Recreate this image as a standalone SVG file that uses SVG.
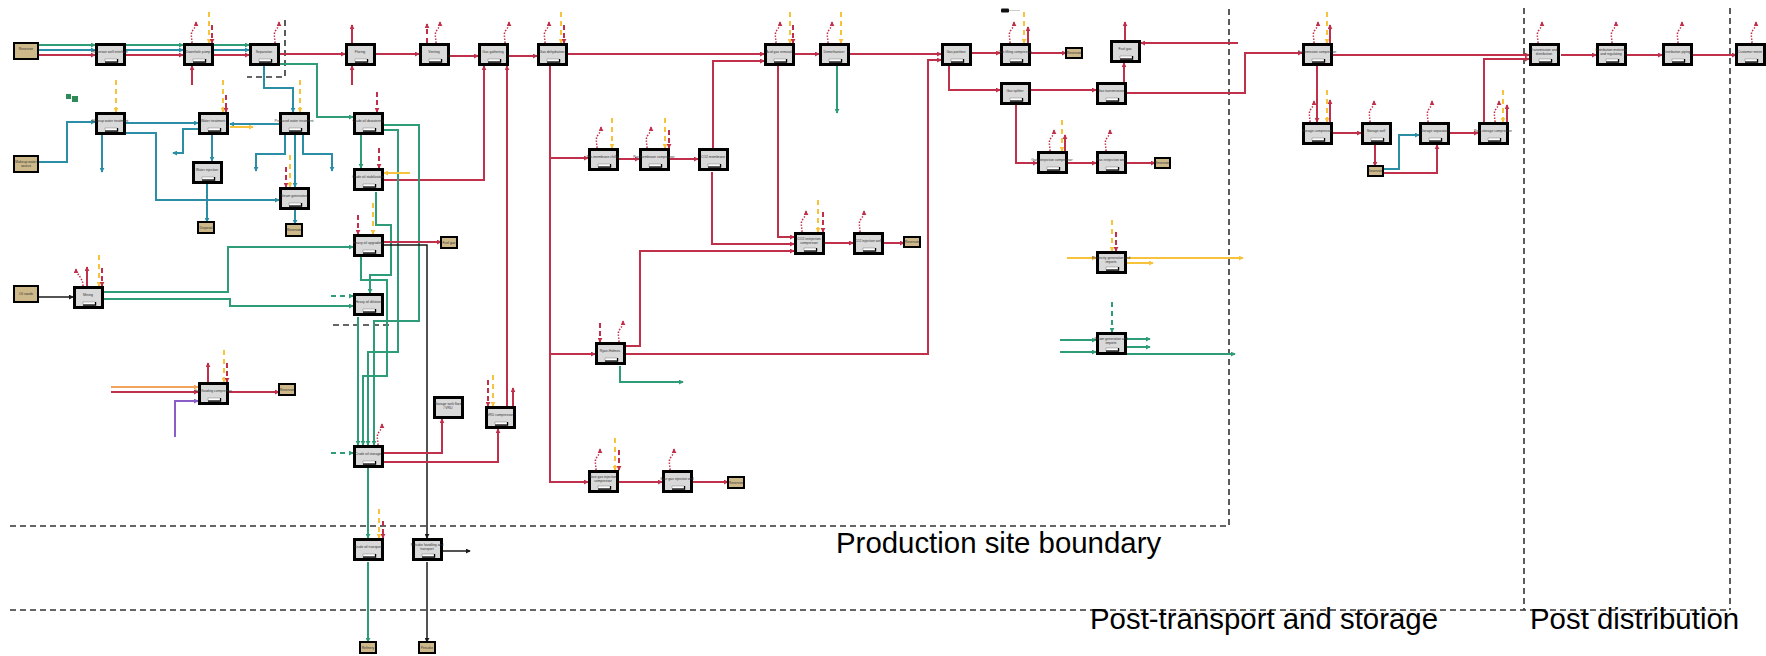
<svg xmlns="http://www.w3.org/2000/svg" xmlns:xlink="http://www.w3.org/1999/xlink" width="1766" height="656" viewBox="0 0 1766 656">
<style>
text{font-family:"Liberation Sans",Arial,sans-serif}
.lb{font-size:3.4px;fill:#333;text-anchor:middle}
.big{font-size:29.4px;fill:#000}
.src{fill:#cdb88a;stroke:#000;stroke-width:2}
.c{fill:none;stroke-width:2;stroke-linejoin:miter}
.r{stroke:#c0304a;marker-end:url(#mr)}
.b{stroke:#2b8ea6;marker-end:url(#mb)}
.g{stroke:#2e9c78;marker-end:url(#mg)}
.y{stroke:#f8c33c;marker-end:url(#my)}
.k{stroke:#1a1a1a;stroke-width:1.5;marker-end:url(#mk)}
.o{stroke:#f2a55a;marker-end:url(#mo)}
.p{stroke:#8a5ec6;marker-end:url(#mp)}
.na{marker-end:none}
.d{stroke-dasharray:5 4}
.el{fill:none;stroke:#f8c33c;stroke-width:2;stroke-dasharray:5 4;marker-end:url(#my)}
.fu{fill:none;stroke:#c0304a;stroke-width:2;stroke-dasharray:5 3;marker-end:url(#mr)}
.fg{fill:none;stroke:#c0304a;stroke-width:1.5;stroke-dasharray:1.5 1.5;marker-end:url(#mr)}
.bd{fill:none;stroke:#333;stroke-width:1.6;stroke-dasharray:6 4}
</style>
<defs>
<marker id="mr" viewBox="0 0 6 6" refX="5" refY="3" markerWidth="5" markerHeight="5" markerUnits="userSpaceOnUse" orient="auto"><path d="M0 0L6 3L0 6z" fill="#c0304a"/></marker>
<marker id="mb" viewBox="0 0 6 6" refX="5" refY="3" markerWidth="5" markerHeight="5" markerUnits="userSpaceOnUse" orient="auto"><path d="M0 0L6 3L0 6z" fill="#2b8ea6"/></marker>
<marker id="mg" viewBox="0 0 6 6" refX="5" refY="3" markerWidth="5" markerHeight="5" markerUnits="userSpaceOnUse" orient="auto"><path d="M0 0L6 3L0 6z" fill="#2e9c78"/></marker>
<marker id="my" viewBox="0 0 6 6" refX="5" refY="3" markerWidth="5" markerHeight="5" markerUnits="userSpaceOnUse" orient="auto"><path d="M0 0L6 3L0 6z" fill="#f8c33c"/></marker>
<marker id="mk" viewBox="0 0 6 6" refX="5" refY="3" markerWidth="5" markerHeight="5" markerUnits="userSpaceOnUse" orient="auto"><path d="M0 0L6 3L0 6z" fill="#1a1a1a"/></marker>
<marker id="mo" viewBox="0 0 6 6" refX="5" refY="3" markerWidth="5" markerHeight="5" markerUnits="userSpaceOnUse" orient="auto"><path d="M0 0L6 3L0 6z" fill="#f2a55a"/></marker>
<marker id="mp" viewBox="0 0 6 6" refX="5" refY="3" markerWidth="5" markerHeight="5" markerUnits="userSpaceOnUse" orient="auto"><path d="M0 0L6 3L0 6z" fill="#8a5ec6"/></marker>
<g id="box"><rect x="1.5" y="1.5" width="28" height="20" fill="#d9d9d9" stroke="#000" stroke-width="3"/><rect x="10" y="16" width="12" height="2.6" fill="#fff" stroke="#666" stroke-width=".4"/><path d="M10 19.2H22.6V16" fill="none" stroke="#000" stroke-width="1.2"/></g>
<g id="box0"><rect x="1.5" y="1.5" width="28" height="20" fill="#d9d9d9" stroke="#000" stroke-width="3"/></g>
<path id="fug" class="fg" d="M0 0C0 -6 -2 -9 1 -13S4 -18 4 -21"/>
</defs>

<g id="boundaries">
<path class="bd" d="M10 526H1229V8"/>
<path class="bd" d="M10 610H1730"/>
<path class="bd" d="M1524 8V610"/>
<path class="bd" d="M1730 8V610"/>
<path class="bd" d="M285 20V77H247"/>
<path class="bd" d="M333 325H391"/>
<text class="big" x="836" y="553">Production site boundary</text>
<text class="big" x="1090" y="629">Post-transport and storage</text>
<text class="big" x="1530" y="629">Post distribution</text>
</g>

<g id="connectors">
<!-- top row -->
<path class="c g" d="M38 45H95"/><path class="c b" d="M38 50H95"/><path class="c r" d="M38 55H95"/>
<path class="c g" d="M126 45H183"/><path class="c b" d="M126 50H183"/><path class="c r" d="M126 55H183"/>
<path class="c g" d="M213 45H249"/><path class="c b" d="M213 50H249"/><path class="c r" d="M213 55H249"/>
<path class="c r" d="M192 85V66"/>
<path class="c r" d="M280 54H345"/>
<path class="c g" d="M280 64H317V117H353"/>
<path class="c b" d="M264 66V88H293V112"/>
<path class="c r" d="M352 85V66"/>
<path class="c r" d="M376 54H419"/>
<path class="c r" d="M449 56H478"/>
<path class="c r" d="M508 56H537"/>
<path class="c r" d="M567 54H764"/>
<path class="c r" d="M383 180H484V66"/>
<path class="c r" d="M507 406V66"/>
<path class="c r" d="M550 66V482H588"/>
<path class="c r" d="M550 158H588"/>
<path class="c r" d="M550 354H595"/>
<path class="c r" d="M619 159H639"/>
<path class="c r" d="M670 159H698"/>
<path class="c r" d="M713 148V61H764"/>
<path class="c r" d="M712 172V244H794"/>
<path class="c r" d="M778 66V237H794"/>
<path class="c r" d="M626 346H640V251H794"/>
<path class="c r" d="M626 354H928V60H941"/>
<path class="c g" d="M620 366V382H683"/>
<path class="c r" d="M825 243H853"/>
<path class="c r" d="M883 243H904"/>
<path class="c r" d="M619 482H662"/>
<path class="c r" d="M692 482H728"/>
<path class="c r" d="M795 54H819"/>
<path class="c r" d="M850 54H941"/>
<path class="c g" d="M837 66V113"/>
<path class="c r" d="M972 53H1000"/>
<path class="c r" d="M1031 53H1066"/>
<path class="c r" d="M949 66V90H1000"/>
<path class="c r" d="M1031 90H1096"/>
<path class="c r" d="M1124 82V63"/>
<path class="c r" d="M1127 93H1245V53H1302"/>
<path class="c r" d="M1238 43H1141"/>
<path class="c r" d="M1016 105V163H1037"/>
<path class="c r" d="M1067 163H1096"/>
<path class="c r" d="M1127 163H1155"/>
<path class="c r" d="M1332 55H1529"/>
<path class="c r" d="M1317 66V122"/>
<path class="c r" d="M1332 133H1361"/>
<path class="c r" d="M1375 145V166"/>
<path class="c b" d="M1383 169H1399V135H1419"/>
<path class="c r" d="M1383 173H1437V145"/>
<path class="c r" d="M1450 133H1478"/>
<path class="c r" d="M1484 122V59H1529"/>
<path class="c r" d="M1561 55H1596"/>
<path class="c r" d="M1627 55H1662"/>
<path class="c r" d="M1693 55H1736"/>
<!-- water -->
<path class="c b" d="M38 162H67V122H95"/>
<path class="c b" d="M126 123H198"/>
<path class="c b" d="M102 135V172"/>
<path class="c b" d="M126 133H156V200H279"/>
<path class="c b" d="M279 124H230"/>
<path class="c y" d="M230 127H253"/>
<path class="c b" d="M212 135V161"/>
<path class="c b" d="M198 129H183V153H173"/>
<path class="c b" d="M207 184V222"/>
<path class="c b" d="M285 135V154H256V171"/>
<path class="c b" d="M303 135V154H332V171"/>
<path class="c b" d="M295 135V187"/>
<path class="c b" d="M295 210V224"/>
<!-- oil -->
<path class="c g" d="M361 135V168"/>
<path class="c g" d="M383 125H419V321H374V445"/>
<path class="c g" d="M383 130H398V352H368V445"/>
<path class="c g" d="M361 257V280H387V376H363V445"/>
<path class="c g" d="M358 317V445"/>
<path class="c g" d="M376 192V225H391V275H370V293"/>
<path class="c g" d="M104 292H228V247H353"/>
<path class="c g" d="M104 299H230V306H353"/>
<path class="c g d" d="M331 296H353"/>
<path class="c g d" d="M331 453H353"/>
<path class="c g" d="M368 468V538"/>
<path class="c g" d="M368 562V642"/>
<path class="c r" d="M383 242H441"/>
<path class="c k" d="M383 245H427V538"/>
<path class="c k" d="M427 562V642"/>
<path class="c k" d="M442 551H470"/>
<path class="c r" d="M383 453H442V419"/>
<path class="c r" d="M383 462H498V429"/>
<path class="c y" d="M410 173H384"/>
<path class="c k" d="M38 297H73"/>
<path class="c o" d="M111 387H198"/>
<path class="c r" d="M111 392H198"/>
<path class="c p" d="M175 437V401H198"/>
<path class="c r" d="M228 392H279"/>
<!-- utilities -->
<path class="c y" d="M1067 258H1096"/>
<path class="c y" d="M1127 258H1243"/>
<path class="c y" d="M1127 263H1153"/>
<path class="c g" d="M1060 340H1096"/>
<path class="c g" d="M1060 352H1096"/>
<path class="c g" d="M1127 339H1150"/>
<path class="c g" d="M1127 347H1150"/>
<path class="c g" d="M1127 354H1235"/>
<path class="c g d" d="M1112 302V332"/>
<!-- fugitive emissions -->
<use href="#fug" x="192" y="43"/><use href="#fug" x="275" y="43"/><use href="#fug" x="436" y="43"/>
<use href="#fug" x="505" y="43"/><use href="#fug" x="545" y="43"/><use href="#fug" x="776" y="43"/>
<use href="#fug" x="828" y="43"/><use href="#fug" x="1010" y="43"/><use href="#fug" x="1050" y="151"/>
<use href="#fug" x="1106" y="151"/><use href="#fug" x="1314" y="43"/><use href="#fug" x="1310" y="122"/>
<use href="#fug" x="1370" y="122"/><use href="#fug" x="1428" y="122"/><use href="#fug" x="1495" y="122"/>
<use href="#fug" x="1538" y="43"/><use href="#fug" x="1612" y="43"/><use href="#fug" x="1678" y="43"/>
<use href="#fug" x="1752" y="43"/><use href="#fug" x="597" y="148"/><use href="#fug" x="647" y="148"/>
<use href="#fug" x="802" y="232"/><use href="#fug" x="860" y="232"/><use href="#fug" x="619" y="342"/>
<use href="#fug" x="596" y="470"/><use href="#fug" x="670" y="470"/><use href="#fug" x="378" y="445"/>
<path class="fg" d="M83 286C83 280 80 277 78 274S76 271 76 269"/>
<!-- electricity inputs -->
<path class="el" d="M209 12V43"/><path class="el" d="M561 12V43"/><path class="el" d="M790 12V43"/>
<path class="el" d="M841 12V43"/><path class="el" d="M1024 12V43"/><path class="el" d="M1327 12V43"/>
<path class="el" d="M1327 90V122"/><path class="el" d="M1503 90V122"/><path class="el" d="M1062 120V151"/>
<path class="el" d="M116 80V112"/><path class="el" d="M223 80V112"/><path class="el" d="M300 80V112"/>
<path class="el" d="M290 155V187"/><path class="el" d="M99 255V286"/><path class="el" d="M224 350V382"/>
<path class="el" d="M373 203V234"/><path class="el" d="M493 375V406"/><path class="el" d="M612 118V148"/>
<path class="el" d="M665 118V148"/><path class="el" d="M818 200V232"/><path class="el" d="M615 438V470"/>
<path class="el" d="M379 509V538"/><path class="el" d="M1112 220V251"/>
<!-- fuel inputs -->
<path class="fu" d="M212 25V43"/><path class="fu" d="M564 25V43"/><path class="fu" d="M793 25V43"/>
<path class="fu" d="M226 95V112"/><path class="fu" d="M286 167V187"/><path class="fu" d="M102 268V286"/>
<path class="fu" d="M227 363V382"/><path class="fu" d="M358 215V234"/><path class="fu" d="M377 92V112"/>
<path class="fu" d="M379 148V168"/><path class="fu" d="M488 380V406"/><path class="fu" d="M669 130V148"/>
<path class="fu" d="M823 212V232"/><path class="fu" d="M600 323V342"/><path class="fu" d="M619 450V470"/>
<path class="fu" d="M383 521V538"/><path class="fu" d="M1116 232V251"/>
<!-- vents -->
<path class="c r" d="M352 43V25"/><path class="c r d" d="M427 43V24"/><path class="c r" d="M1028 43V27"/>
<path class="c r" d="M1125 40V22"/><path class="c r" d="M1330 43V25"/><path class="c r" d="M1330 122V100"/>
<path class="c r" d="M1507 122V105"/><path class="c r" d="M1065 151V135"/><path class="c r" d="M87 286V267"/>
<path class="c r" d="M208 382V363"/><path class="c r" d="M513 406V388"/>
</g>

<g id="legend-icon"><rect x="66" y="94" width="5" height="5" fill="#2e8b57"/><rect x="72" y="96" width="6" height="6" fill="#2e8b57"/></g>
<g id="marker-k"><rect x="1001" y="8.5" width="8" height="4" rx="1" fill="#111"/><path d="M1009 10.5H1020" stroke="#999" stroke-width=".5"/></g>

<!-- sources/sinks -->
<g id="s-res"><rect class="src" x="14" y="43" width="24" height="16"/><text class="lb" x="26" y="50">Reservoir</text></g>
<g id="s-mw"><rect class="src" x="14" y="156" width="24" height="16"/><text class="lb" x="26" y="163">Makeup water</text><text class="lb" x="26" y="167">source</text></g>
<g id="s-wd"><rect class="src" x="198" y="222" width="16" height="11"/><text class="lb" x="206" y="229">Disposal</text></g>
<g id="s-ws"><rect class="src" x="286" y="224" width="16" height="12"/><text class="lb" x="294" y="231">Reservoir</text></g>
<g id="s-dil"><rect class="src" x="14" y="286" width="24" height="16"/><text class="lb" x="26" y="295">Oil sands</text></g>
<g id="s-gf"><rect class="src" x="279" y="384" width="16" height="11"/><text class="lb" x="287" y="391">Reservoir</text></g>
<g id="s-ug"><rect class="src" x="441" y="237" width="16" height="11"/><text class="lb" x="449" y="244">Fuel gas</text></g>
<g id="s-ref"><rect class="src" x="360" y="642" width="16" height="11"/><text class="lb" x="368" y="649">Refinery</text></g>
<g id="s-coke"><rect class="src" x="419" y="642" width="16" height="11"/><text class="lb" x="427" y="649">Petcoke</text></g>
<g id="s-sg"><rect class="src" x="728" y="477" width="16" height="11"/><text class="lb" x="736" y="484">Reservoir</text></g>
<g id="s-co2"><rect class="src" x="904" y="237" width="16" height="10"/><text class="lb" x="912" y="243">Reservoir</text></g>
<g id="s-gr"><rect class="src" x="1066" y="48" width="16" height="10"/><text class="lb" x="1074" y="54">Reservoir</text></g>
<g id="s-gr2"><rect class="src" x="1155" y="158" width="15" height="10"/><text class="lb" x="1162" y="164">Reservoir</text></g>
<g id="s-st"><rect class="src" x="1368" y="166" width="15" height="10"/><text class="lb" x="1375" y="172">Reservoir</text></g>

<!-- process nodes -->
<g id="n-rwi"><use href="#box" x="95" y="43"/><text class="lb" x="110" y="53">Reservoir well interface</text></g>
<g id="n-dhp"><use href="#box" x="183" y="43"/><text class="lb" x="198" y="53">Downhole pump</text></g>
<g id="n-sep"><use href="#box" x="249" y="43"/><text class="lb" x="264" y="53">Separation</text></g>
<g id="n-flare"><use href="#box" x="345" y="43"/><text class="lb" x="360" y="53">Flaring</text></g>
<g id="n-vent"><use href="#box" x="419" y="43"/><text class="lb" x="434" y="53">Venting</text></g>
<g id="n-gg"><use href="#box" x="478" y="43"/><text class="lb" x="493" y="53">Gas gathering</text></g>
<g id="n-dehy"><use href="#box" x="537" y="43"/><text class="lb" x="552" y="53">Gas dehydration</text></g>
<g id="n-agr"><use href="#box" x="764" y="43"/><text class="lb" x="779" y="53">Acid gas removal</text></g>
<g id="n-dm"><use href="#box" x="819" y="43"/><text class="lb" x="834" y="53">Demethanizer</text></g>
<g id="n-gp"><use href="#box" x="941" y="43"/><text class="lb" x="956" y="53">Gas partition</text></g>
<g id="n-glc"><use href="#box" x="1000" y="43"/><text class="lb" x="1015" y="53">Gas lifting compressor</text></g>
<g id="n-fg"><use href="#box" x="1110" y="40"/><text class="lb" x="1125" y="50">Fuel gas</text></g>
<g id="n-gp2"><use href="#box" x="1000" y="82"/><text class="lb" x="1015" y="92">Gas splitter</text></g>
<g id="n-gt"><use href="#box" x="1096" y="82"/><text class="lb" x="1111" y="92">Gas transmission</text></g>
<g id="n-grc"><use href="#box" x="1037" y="151"/><text class="lb" x="1052" y="161">Gas reinjection compressor</text></g>
<g id="n-grw"><use href="#box" x="1096" y="151"/><text class="lb" x="1111" y="161">Gas reinjection well</text></g>
<g id="n-tc"><use href="#box" x="1302" y="43"/><text class="lb" x="1317" y="53">Transmission compressor</text></g>
<g id="n-sc"><use href="#box" x="1302" y="122"/><text class="lb" x="1317" y="132">Storage compressor</text></g>
<g id="n-sw"><use href="#box" x="1361" y="122"/><text class="lb" x="1376" y="132">Storage well</text></g>
<g id="n-ss"><use href="#box" x="1419" y="122"/><text class="lb" x="1434" y="132">Storage separator</text></g>
<g id="n-psc"><use href="#box" x="1478" y="122"/><text class="lb" x="1493" y="132">Post-storage compressor</text></g>
<g id="n-gd"><use href="#box" x="1529" y="43"/><text class="lb" x="1544" y="51">Transmission and</text><text class="lb" x="1544" y="55">distribution</text></g>
<g id="n-liq"><use href="#box" x="1596" y="43"/><text class="lb" x="1611" y="51">Distribution metering</text><text class="lb" x="1611" y="55">and regulating</text></g>
<g id="n-lt"><use href="#box" x="1662" y="43"/><text class="lb" x="1677" y="53">Distribution piping</text></g>
<g id="n-eu"><use href="#box" x="1735" y="43"/><text class="lb" x="1750" y="53">Customer meter</text></g>
<g id="n-mwt"><use href="#box" x="95" y="112"/><text class="lb" x="110" y="122">Makeup water treatment</text></g>
<g id="n-wt"><use href="#box" x="198" y="112"/><text class="lb" x="213" y="122">Water treatment</text></g>
<g id="n-pwt"><use href="#box" x="279" y="112"/><text class="lb" x="294" y="122">Produced water treatment</text></g>
<g id="n-wi"><use href="#box" x="192" y="161"/><text class="lb" x="207" y="171">Water injection</text></g>
<g id="n-sgen"><use href="#box" x="279" y="187"/><text class="lb" x="294" y="197">Steam generation</text></g>
<g id="n-mine"><use href="#box" x="73" y="286"/><text class="lb" x="88" y="296">Mining</text></g>
<g id="n-gfc"><use href="#box" x="198" y="382"/><text class="lb" x="213" y="392">Gas flooding compressor</text></g>
<g id="n-cod"><use href="#box" x="353" y="112"/><text class="lb" x="368" y="122">Crude oil dewatering</text></g>
<g id="n-cos"><use href="#box" x="353" y="168"/><text class="lb" x="368" y="178">Crude oil stabilization</text></g>
<g id="n-hou"><use href="#box" x="353" y="234"/><text class="lb" x="368" y="244">Heavy oil upgrading</text></g>
<g id="n-hod"><use href="#box" x="353" y="293"/><text class="lb" x="368" y="303">Heavy oil dilution</text></g>
<g id="n-cst"><use href="#box" x="353" y="445"/><text class="lb" x="368" y="455">Crude oil storage</text></g>
<g id="n-ctr"><use href="#box" x="353" y="538"/><text class="lb" x="368" y="548">Crude oil transport</text></g>
<g id="n-pct"><use href="#box" x="412" y="538"/><text class="lb" x="427" y="546">Petcoke handling and</text><text class="lb" x="427" y="550">transport</text></g>
<g id="n-sf"><use href="#box0" x="433" y="396"/><text class="lb" x="448" y="405">Storage tank flare</text><text class="lb" x="448" y="409">/ VRU</text></g>
<g id="n-vru"><use href="#box" x="485" y="406"/><text class="lb" x="500" y="416">VRU compressor</text></g>
<g id="n-pmch"><use href="#box" x="588" y="148"/><text class="lb" x="603" y="158">Pre-membrane chiller</text></g>
<g id="n-pmc"><use href="#box" x="639" y="148"/><text class="lb" x="654" y="158">Pre-membrane compressor</text></g>
<g id="n-mem"><use href="#box" x="698" y="148"/><text class="lb" x="713" y="158">CO2 membrane</text></g>
<g id="n-co2c"><use href="#box" x="794" y="232"/><text class="lb" x="809" y="240">CO2 reinjection</text><text class="lb" x="809" y="244">compressor</text></g>
<g id="n-co2w"><use href="#box" x="853" y="232"/><text class="lb" x="868" y="242">CO2 injection well</text></g>
<g id="n-rh"><use href="#box" x="595" y="342"/><text class="lb" x="610" y="352">Ryan-Holmes</text></g>
<g id="n-sgc"><use href="#box" x="588" y="470"/><text class="lb" x="603" y="478">Sour gas injection</text><text class="lb" x="603" y="482">compressor</text></g>
<g id="n-sgw"><use href="#box" x="662" y="470"/><text class="lb" x="677" y="480">Sour gas injection well</text></g>
<g id="n-elec"><use href="#box" x="1096" y="251"/><text class="lb" x="1111" y="259">Electricity generation and</text><text class="lb" x="1111" y="263">imports</text></g>
<g id="n-steam"><use href="#box" x="1096" y="332"/><text class="lb" x="1111" y="340">Steam generation and</text><text class="lb" x="1111" y="344">imports</text></g>
</svg>
